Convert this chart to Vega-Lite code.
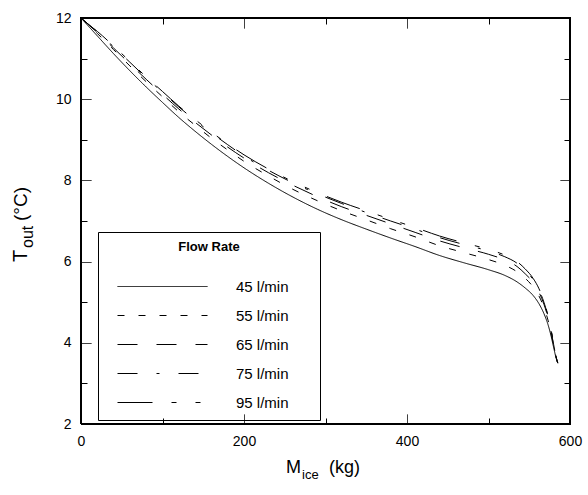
{
  "$schema": "https://vega.github.io/schema/vega-lite/v6.json",
  "width": 489,
  "height": 406,
  "autosize": {"type": "none"},
  "padding": {"left": 81, "top": 18, "right": 18, "bottom": 71},
  "background": "white",
  "config": {
    "view": {"stroke": "black", "strokeWidth": 1},
    "font": "Liberation Sans"
  },
  "datasets": {
    "frame": [
      {"m": 0, "t": 2, "i": 0}, {"m": 600, "t": 2, "i": 1}, {"m": 600, "t": 12, "i": 2}, {"m": 0, "t": 12, "i": 3}, {"m": 0, "t": 2, "i": 4}
    ]
  },
  "data": {"values": [
    {"m":0,"t":12.00,"f":"45 l/min"},{"m":10,"t":11.78,"f":"45 l/min"},{"m":20,"t":11.56,"f":"45 l/min"},{"m":40,"t":11.12,"f":"45 l/min"},{"m":60,"t":10.70,"f":"45 l/min"},{"m":80,"t":10.30,"f":"45 l/min"},{"m":100,"t":9.92,"f":"45 l/min"},{"m":120,"t":9.55,"f":"45 l/min"},{"m":140,"t":9.21,"f":"45 l/min"},{"m":160,"t":8.89,"f":"45 l/min"},{"m":180,"t":8.59,"f":"45 l/min"},{"m":200,"t":8.31,"f":"45 l/min"},{"m":230,"t":7.93,"f":"45 l/min"},{"m":260,"t":7.59,"f":"45 l/min"},{"m":290,"t":7.29,"f":"45 l/min"},{"m":320,"t":7.03,"f":"45 l/min"},{"m":350,"t":6.80,"f":"45 l/min"},{"m":380,"t":6.58,"f":"45 l/min"},{"m":410,"t":6.37,"f":"45 l/min"},{"m":440,"t":6.15,"f":"45 l/min"},{"m":470,"t":5.97,"f":"45 l/min"},{"m":500,"t":5.80,"f":"45 l/min"},{"m":520,"t":5.66,"f":"45 l/min"},{"m":535,"t":5.50,"f":"45 l/min"},{"m":545,"t":5.35,"f":"45 l/min"},{"m":555,"t":5.16,"f":"45 l/min"},{"m":562,"t":4.96,"f":"45 l/min"},{"m":568,"t":4.72,"f":"45 l/min"},{"m":573,"t":4.45,"f":"45 l/min"},{"m":577,"t":4.15,"f":"45 l/min"},{"m":580,"t":3.88,"f":"45 l/min"},{"m":583,"t":3.62,"f":"45 l/min"},{"m":585,"t":3.50,"f":"45 l/min"},
    {"m":0,"t":12.00,"f":"55 l/min"},{"m":10,"t":11.81,"f":"55 l/min"},{"m":20,"t":11.62,"f":"55 l/min"},{"m":40,"t":11.22,"f":"55 l/min"},{"m":60,"t":10.82,"f":"55 l/min"},{"m":80,"t":10.43,"f":"55 l/min"},{"m":100,"t":10.06,"f":"55 l/min"},{"m":120,"t":9.69,"f":"55 l/min"},{"m":140,"t":9.36,"f":"55 l/min"},{"m":160,"t":9.04,"f":"55 l/min"},{"m":180,"t":8.75,"f":"55 l/min"},{"m":200,"t":8.47,"f":"55 l/min"},{"m":230,"t":8.11,"f":"55 l/min"},{"m":260,"t":7.78,"f":"55 l/min"},{"m":290,"t":7.50,"f":"55 l/min"},{"m":320,"t":7.25,"f":"55 l/min"},{"m":350,"t":7.03,"f":"55 l/min"},{"m":380,"t":6.81,"f":"55 l/min"},{"m":410,"t":6.61,"f":"55 l/min"},{"m":440,"t":6.39,"f":"55 l/min"},{"m":470,"t":6.22,"f":"55 l/min"},{"m":500,"t":6.05,"f":"55 l/min"},{"m":520,"t":5.91,"f":"55 l/min"},{"m":535,"t":5.75,"f":"55 l/min"},{"m":545,"t":5.59,"f":"55 l/min"},{"m":555,"t":5.37,"f":"55 l/min"},{"m":562,"t":5.15,"f":"55 l/min"},{"m":568,"t":4.87,"f":"55 l/min"},{"m":573,"t":4.56,"f":"55 l/min"},{"m":577,"t":4.23,"f":"55 l/min"},{"m":580,"t":3.93,"f":"55 l/min"},{"m":583,"t":3.64,"f":"55 l/min"},{"m":585,"t":3.50,"f":"55 l/min"},
    {"m":0,"t":12.00,"f":"65 l/min"},{"m":10,"t":11.82,"f":"65 l/min"},{"m":20,"t":11.64,"f":"65 l/min"},{"m":40,"t":11.26,"f":"65 l/min"},{"m":60,"t":10.87,"f":"65 l/min"},{"m":80,"t":10.49,"f":"65 l/min"},{"m":100,"t":10.12,"f":"65 l/min"},{"m":120,"t":9.76,"f":"65 l/min"},{"m":140,"t":9.43,"f":"65 l/min"},{"m":160,"t":9.12,"f":"65 l/min"},{"m":180,"t":8.82,"f":"65 l/min"},{"m":200,"t":8.55,"f":"65 l/min"},{"m":230,"t":8.19,"f":"65 l/min"},{"m":260,"t":7.88,"f":"65 l/min"},{"m":290,"t":7.60,"f":"65 l/min"},{"m":320,"t":7.35,"f":"65 l/min"},{"m":350,"t":7.14,"f":"65 l/min"},{"m":380,"t":6.93,"f":"65 l/min"},{"m":410,"t":6.72,"f":"65 l/min"},{"m":440,"t":6.51,"f":"65 l/min"},{"m":470,"t":6.34,"f":"65 l/min"},{"m":500,"t":6.18,"f":"65 l/min"},{"m":520,"t":6.04,"f":"65 l/min"},{"m":535,"t":5.88,"f":"65 l/min"},{"m":545,"t":5.70,"f":"65 l/min"},{"m":555,"t":5.48,"f":"65 l/min"},{"m":562,"t":5.24,"f":"65 l/min"},{"m":568,"t":4.95,"f":"65 l/min"},{"m":573,"t":4.62,"f":"65 l/min"},{"m":577,"t":4.26,"f":"65 l/min"},{"m":580,"t":3.95,"f":"65 l/min"},{"m":583,"t":3.64,"f":"65 l/min"},{"m":585,"t":3.50,"f":"65 l/min"},
    {"m":0,"t":12.00,"f":"75 l/min"},{"m":10,"t":11.83,"f":"75 l/min"},{"m":20,"t":11.66,"f":"75 l/min"},{"m":40,"t":11.29,"f":"75 l/min"},{"m":60,"t":10.91,"f":"75 l/min"},{"m":80,"t":10.53,"f":"75 l/min"},{"m":100,"t":10.17,"f":"75 l/min"},{"m":120,"t":9.81,"f":"75 l/min"},{"m":140,"t":9.48,"f":"75 l/min"},{"m":160,"t":9.17,"f":"75 l/min"},{"m":180,"t":8.88,"f":"75 l/min"},{"m":200,"t":8.60,"f":"75 l/min"},{"m":230,"t":8.25,"f":"75 l/min"},{"m":260,"t":7.94,"f":"75 l/min"},{"m":290,"t":7.67,"f":"75 l/min"},{"m":320,"t":7.43,"f":"75 l/min"},{"m":350,"t":7.21,"f":"75 l/min"},{"m":380,"t":7.00,"f":"75 l/min"},{"m":410,"t":6.80,"f":"75 l/min"},{"m":440,"t":6.59,"f":"75 l/min"},{"m":470,"t":6.42,"f":"75 l/min"},{"m":500,"t":6.26,"f":"75 l/min"},{"m":520,"t":6.12,"f":"75 l/min"},{"m":535,"t":5.96,"f":"75 l/min"},{"m":545,"t":5.78,"f":"75 l/min"},{"m":555,"t":5.55,"f":"75 l/min"},{"m":562,"t":5.30,"f":"75 l/min"},{"m":568,"t":5.00,"f":"75 l/min"},{"m":573,"t":4.65,"f":"75 l/min"},{"m":577,"t":4.29,"f":"75 l/min"},{"m":580,"t":3.96,"f":"75 l/min"},{"m":583,"t":3.65,"f":"75 l/min"},{"m":585,"t":3.50,"f":"75 l/min"},
    {"m":0,"t":12.00,"f":"95 l/min"},{"m":10,"t":11.83,"f":"95 l/min"},{"m":20,"t":11.67,"f":"95 l/min"},{"m":40,"t":11.31,"f":"95 l/min"},{"m":60,"t":10.93,"f":"95 l/min"},{"m":80,"t":10.55,"f":"95 l/min"},{"m":100,"t":10.19,"f":"95 l/min"},{"m":120,"t":9.83,"f":"95 l/min"},{"m":140,"t":9.50,"f":"95 l/min"},{"m":160,"t":9.19,"f":"95 l/min"},{"m":180,"t":8.90,"f":"95 l/min"},{"m":200,"t":8.63,"f":"95 l/min"},{"m":230,"t":8.28,"f":"95 l/min"},{"m":260,"t":7.97,"f":"95 l/min"},{"m":290,"t":7.70,"f":"95 l/min"},{"m":320,"t":7.46,"f":"95 l/min"},{"m":350,"t":7.25,"f":"95 l/min"},{"m":380,"t":7.04,"f":"95 l/min"},{"m":410,"t":6.84,"f":"95 l/min"},{"m":440,"t":6.63,"f":"95 l/min"},{"m":470,"t":6.46,"f":"95 l/min"},{"m":500,"t":6.30,"f":"95 l/min"},{"m":520,"t":6.16,"f":"95 l/min"},{"m":535,"t":6.00,"f":"95 l/min"},{"m":545,"t":5.82,"f":"95 l/min"},{"m":555,"t":5.58,"f":"95 l/min"},{"m":562,"t":5.33,"f":"95 l/min"},{"m":568,"t":5.02,"f":"95 l/min"},{"m":573,"t":4.67,"f":"95 l/min"},{"m":577,"t":4.30,"f":"95 l/min"},{"m":580,"t":3.97,"f":"95 l/min"},{"m":583,"t":3.65,"f":"95 l/min"},{"m":585,"t":3.50,"f":"95 l/min"}
  ]},
  "resolve": {"axis": {"x": "independent", "y": "independent"}},
  "layer": [
    {
      "data": {"name": "frame"},
      "mark": {"type": "line", "color": "black", "strokeWidth": 2, "interpolate": "linear"},
      "encoding": {"x": {"field": "m", "type": "quantitative", "axis": null}, "y": {"field": "t", "type": "quantitative", "axis": null}, "order": {"field": "i", "type": "quantitative"}}
    },
    {
      "mark": {"type": "line", "color": "black", "strokeWidth": 1, "interpolate": "monotone"},
      "encoding": {
        "x": {"field": "m", "type": "quantitative", "scale": {"domain": [0, 600], "nice": false},
          "axis": {"orient": "bottom", "title": null, "grid": false, "zindex": 1, "domain": true, "domainColor": "black", "domainWidth": 1, "ticks": true, "tickColor": "black", "tickWidth": 1, "values": [0,100,200,300,400,500,600], "labelExpr": "datum.value % 200 === 0 ? datum.label : ''", "labelFont": "Liberation Sans", "labelFontSize": 14, "labelColor": "black", "labelFlush": false, "tickSize": -10, "tickDash": {"condition": {"test": "datum.value % 200 === 0", "value": [1, 0]}, "value": [6, 10]}, "labelPadding": 20}},
        "y": {"field": "t", "type": "quantitative", "scale": {"domain": [2, 12], "nice": false, "zero": false},
          "axis": {"orient": "left", "title": null, "grid": false, "zindex": 1, "domain": true, "domainColor": "black", "domainWidth": 1, "ticks": true, "tickColor": "black", "tickWidth": 1, "values": [2,3,4,5,6,7,8,9,10,11,12], "labelExpr": "datum.value % 2 === 0 ? datum.label : ''", "labelFont": "Liberation Sans", "labelFontSize": 14, "labelColor": "black", "labelFlush": false, "tickSize": -10, "tickDash": {"condition": {"test": "datum.value % 2 === 0", "value": [1, 0]}, "value": [6, 10]}, "labelPadding": 20}},
        "strokeDash": {"field": "f", "type": "nominal",
          "scale": {"domain": ["45 l/min","55 l/min","65 l/min","75 l/min","95 l/min"], "range": [[1,0],[7,14],[20,19],[20,19,3,19],[35,19,5,19,5,19]]},
          "legend": {"title": "Flow Rate", "orient": "none", "legendX": 17, "legendY": 214, "strokeColor": "black", "padding": 9, "symbolOffset": 48, "titleAnchor": "middle", "titleFont": "Liberation Sans", "titleFontSize": 13, "titleFontWeight": "bold", "titleColor": "black", "titlePadding": 25, "labelFont": "Liberation Sans", "labelFontSize": 15, "labelColor": "black", "labelOffset": 66, "labelExpr": "datum.label + '\u2800\u2800'", "symbolType": "M-9,0H9", "symbolSize": 100, "symbolStrokeColor": "black", "symbolFillColor": "transparent", "symbolStrokeWidth": 1, "rowPadding": 13}}
      }
    },
    {
      "mark": {"type": "line", "strokeOpacity": 0},
      "encoding": {
        "x": {"field": "m", "type": "quantitative",
          "axis": {"orient": "top", "title": null, "grid": false, "zindex": 1, "labels": false, "domain": true, "domainColor": "black", "domainWidth": 1, "ticks": true, "tickColor": "black", "tickWidth": 1, "values": [0,100,200,300,400,500,600], "tickSize": -10, "tickDash": {"condition": {"test": "datum.value % 200 === 0", "value": [1, 0]}, "value": [6, 10]}}},
        "y": {"field": "t", "type": "quantitative",
          "axis": {"orient": "right", "title": null, "grid": false, "zindex": 1, "labels": false, "domain": true, "domainColor": "black", "domainWidth": 1, "ticks": true, "tickColor": "black", "tickWidth": 1, "values": [2,3,4,5,6,7,8,9,10,11,12], "tickSize": -10, "tickDash": {"condition": {"test": "datum.value % 2 === 0", "value": [1, 0]}, "value": [6, 10]}}},
        "detail": {"field": "f"}
      }
    },
    {
      "data": {"values": [{}]},
      "mark": {"type": "text", "text": "M", "align": "right", "baseline": "alphabetic", "fontSize": 18, "font": "Liberation Sans", "fill": "black"},
      "encoding": {"x": {"datum": 270, "type": "quantitative", "axis": null}, "y": {"datum": 0.79, "type": "quantitative", "axis": null}}
    },
    {
      "data": {"values": [{}]},
      "mark": {"type": "text", "text": "ice", "align": "left", "baseline": "alphabetic", "fontSize": 13, "font": "Liberation Sans", "fill": "black", "dx": 1, "dy": 6},
      "encoding": {"x": {"datum": 270, "type": "quantitative", "axis": null}, "y": {"datum": 0.79, "type": "quantitative", "axis": null}}
    },
    {
      "data": {"values": [{}]},
      "mark": {"type": "text", "text": "(kg)", "align": "left", "baseline": "alphabetic", "fontSize": 18, "font": "Liberation Sans", "fill": "black", "dx": 28},
      "encoding": {"x": {"datum": 270, "type": "quantitative", "axis": null}, "y": {"datum": 0.79, "type": "quantitative", "axis": null}}
    },
    {
      "data": {"values": [{}]},
      "mark": {"type": "text", "text": "T", "align": "left", "baseline": "alphabetic", "angle": 270, "fontSize": 20, "font": "Liberation Sans", "fill": "black"},
      "encoding": {"x": {"datum": -66, "type": "quantitative", "axis": null}, "y": {"datum": 5.99, "type": "quantitative", "axis": null}}
    },
    {
      "data": {"values": [{}]},
      "mark": {"type": "text", "text": "out", "align": "left", "baseline": "alphabetic", "angle": 270, "fontSize": 16, "font": "Liberation Sans", "fill": "black", "dx": 14, "dy": 6},
      "encoding": {"x": {"datum": -66, "type": "quantitative", "axis": null}, "y": {"datum": 5.99, "type": "quantitative", "axis": null}}
    },
    {
      "data": {"values": [{}]},
      "mark": {"type": "text", "text": "(°C)", "align": "left", "baseline": "alphabetic", "angle": 270, "fontSize": 19, "font": "Liberation Sans", "fill": "black", "dx": 41},
      "encoding": {"x": {"datum": -66, "type": "quantitative", "axis": null}, "y": {"datum": 5.99, "type": "quantitative", "axis": null}}
    }
  ]
}
